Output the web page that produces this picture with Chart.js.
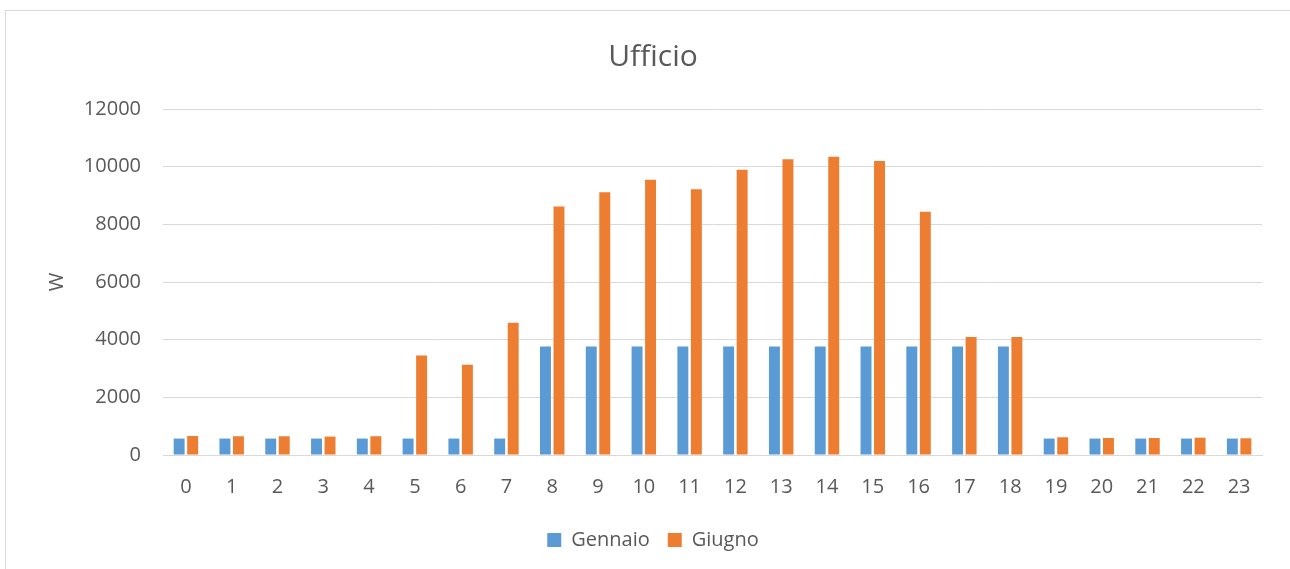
<!DOCTYPE html>
<html>
<head>
<meta charset="utf-8">
<script src="https://cdn.jsdelivr.net/npm/chart.js@4/dist/chart.umd.min.js"></script>
<style>
  html, body { margin: 0; padding: 0; background: #fff; overflow: hidden; }
  #frame { position: absolute; left: 5px; top: 10px; width: 1400px; height: 700px; border: 1px solid #d9d9d9; }
  #wrap { position: absolute; left: 0; top: 0; width: 1290px; height: 569px; }
</style>
</head>
<body>
<div id="frame"></div>
<div id="wrap"><canvas id="chart" width="1290" height="569"></canvas></div>
<script>
var ore = ["0", "1", "2", "3", "4", "5", "6", "7", "8", "9", "10", "11",
  "12", "13", "14", "15", "16", "17", "18", "19", "20", "21", "22", "23"];
var gennaio = [570, 570, 570, 570, 570, 570, 570, 570, 3760, 3760, 3760, 3760,
  3760, 3760, 3760, 3760, 3760, 3760, 3760, 570, 570, 570, 570, 570];
var giugno = [660, 650, 650, 637, 650, 3455, 3130, 4590, 8620, 9110, 9550, 9220,
  9890, 10260, 10340, 10200, 8440, 4090, 4090, 615, 590, 590, 600, 580];

var grigio = '#595959';
var font = 'Open Sans';

var chart = new Chart(document.getElementById('chart'), {
  type: 'bar',
  data: {
    labels: ore,
    datasets: [{
      label: 'Gennaio',
      data: gennaio,
      backgroundColor: '#5B9BD5'
    }, {
      label: 'Giugno',
      data: giugno,
      backgroundColor: '#ED7D31'
    }]
  },
  options: {
    responsive: false,
    animation: false,
    layout: { padding: { left: 44, right: 28, top: 0, bottom: 9 } },
    datasets: { bar: { categoryPercentage: 0.59, barPercentage: 0.81 } },
    plugins: {
      title: {
        display: true,
        text: 'Ufficio',
        color: grigio,
        font: { family: font, size: 30, weight: 'normal' },
        padding: { top: 39, bottom: 34 }
      },
      legend: {
        position: 'bottom',
        labels: {
          color: grigio,
          font: { family: font, size: 20 },
          boxWidth: 14,
          boxHeight: 14,
          padding: 18
        }
      },
      tooltip: { enabled: false }
    },
    scales: {
      x: {
        grid: { display: false },
        border: { color: '#d9d9d9' },
        ticks: { color: grigio, font: { family: font, size: 20 }, padding: 12, maxRotation: 0 },
        afterFit: function (scale) { scale.height = 57; }
      },
      y: {
        min: 0,
        max: 12000,
        ticks: {
          stepSize: 2000,
          color: grigio,
          font: { family: font, size: 20 },
          padding: 22,
          callback: function (v) { return String(v); }
        },
        grid: { color: '#d9d9d9', drawTicks: false },
        border: { display: false },
        title: {
          display: true,
          text: 'W',
          color: grigio,
          font: { family: font, size: 20 },
          padding: { top: 1, bottom: 0 }
        },
        afterFit: function (scale) { scale.width = 119; }
      }
    }
  }
});
</script>
</body>
</html>
